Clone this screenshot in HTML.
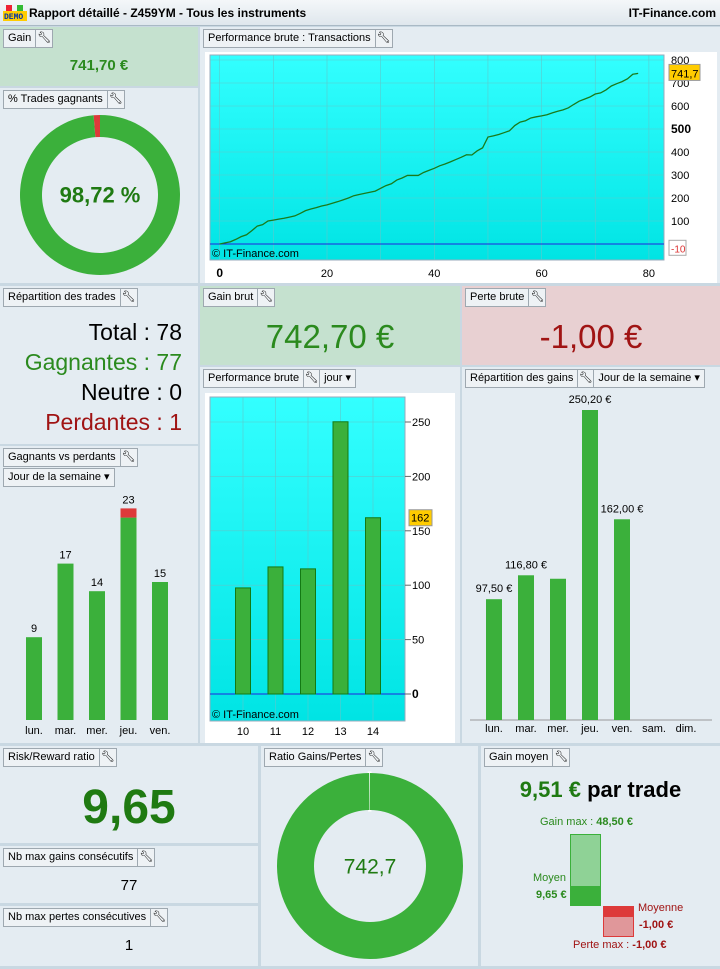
<!DOCTYPE html>
<html><head><meta charset="utf-8"><style>
*{box-sizing:border-box}
body{margin:0;width:720px;height:969px;background:#c9d8e2;font-family:"Liberation Sans",sans-serif;position:relative;overflow:hidden}
.hdr{position:absolute;left:0;top:0;width:720px;height:26px;background:linear-gradient(#f4f7f9,#dfe7ed);border-bottom:1px solid #a9b9c5;font-size:12px;font-weight:bold;line-height:26px}
.p{position:absolute;background:#e4ecf2}
.btn{position:absolute;height:19px;border:1px solid #9ea8b0;background:#eef2f5;font-size:11px;line-height:17px;display:flex}
.btn span{padding:0 4px;border-right:1px solid #9ea8b0}
.btn span:last-child{border-right:none}
.w{width:16px;display:flex;align-items:center;justify-content:center;padding:0!important}
.abs{position:absolute}
</style></head><body>
<div class="hdr">
 <svg class="abs" style="left:3px;top:5px" width="24" height="16"><rect x="3" y="0" width="6" height="6" fill="#e23"/><rect x="14" y="0" width="6" height="6" fill="#3b3"/><rect x="0" y="6" width="24" height="10" fill="#fc0"/><text x="1" y="14" font-size="8" font-weight="bold" fill="#03a" font-family="Liberation Mono">DEMO</text></svg>
 <span class="abs" style="left:29px">Rapport détaillé - Z459YM - Tous les instruments</span>
 <span class="abs" style="right:4px">IT-Finance.com</span>
</div>

<div class="p" style="left:0;top:27px;width:198px;height:59px;background:#c5e1cf">
 <div class="btn" style="left:3px;top:2px"><span>Gain</span><span class="w">🔧︎</span></div>
 <div class="abs" style="left:0;width:198px;top:30px;text-align:center;font-size:15px;font-weight:bold;color:#2b8a1e">741,70 €</div>
</div>
<div class="p" style="left:0;top:88px;width:198px;height:195px">
 <div class="btn" style="left:3px;top:2px"><span>% Trades gagnants</span><span class="w">🔧︎</span></div>
 <svg class="abs" style="left:0;top:0" width="198" height="195" id="donut1"></svg>
</div>
<div class="p" style="left:200px;top:27px;width:520px;height:256px">
 <div class="btn" style="left:3px;top:2px"><span>Performance brute : Transactions</span><span class="w">🔧︎</span></div>
 <svg class="abs" style="left:5px;top:25px" width="512" height="231" id="line"></svg>
</div>
<div class="p" style="left:0;top:286px;width:198px;height:158px">
 <div class="btn" style="left:3px;top:2px"><span>Répartition des trades</span><span class="w">🔧︎</span></div>
 <div class="abs" style="right:16px;top:31px;text-align:right;font-size:23px;line-height:30px">
  <div>Total : 78</div>
  <div style="color:#2b8a1e">Gagnantes : 77</div>
  <div>Neutre : 0</div>
  <div style="color:#a01414">Perdantes : 1</div>
 </div>
</div>
<div class="p" style="left:200px;top:286px;width:260px;height:79px;background:#c5e1cf">
 <div class="btn" style="left:3px;top:2px"><span>Gain brut</span><span class="w">🔧︎</span></div>
 <div class="abs" style="left:0;width:260px;top:32px;text-align:center;font-size:33px;color:#2b8a1e">742,70 €</div>
</div>
<div class="p" style="left:462px;top:286px;width:258px;height:79px;background:#e8d0d2">
 <div class="btn" style="left:3px;top:2px"><span>Perte brute</span><span class="w">🔧︎</span></div>
 <div class="abs" style="left:0;width:258px;top:32px;text-align:center;font-size:33px;color:#a01414">-1,00 €</div>
</div>
<div class="p" style="left:0;top:446px;width:198px;height:297px">
 <div class="btn" style="left:3px;top:2px"><span>Gagnants vs perdants</span><span class="w">🔧︎</span></div>
 <div class="btn" style="left:3px;top:22px"><span>Jour de la semaine ▾</span></div>
 <svg class="abs" style="left:0;top:0" width="198" height="297" id="wl"></svg>
</div>
<div class="p" style="left:200px;top:367px;width:260px;height:376px">
 <div class="btn" style="left:3px;top:2px"><span>Performance brute</span><span class="w">🔧︎</span><span>jour ▾</span></div>
 <svg class="abs" style="left:5px;top:26px" width="250" height="350" id="daybar"></svg>
</div>
<div class="p" style="left:462px;top:367px;width:258px;height:376px">
 <div class="btn" style="left:3px;top:2px"><span>Répartition des gains</span><span class="w">🔧︎</span><span>Jour de la semaine ▾</span></div>
 <svg class="abs" style="left:0;top:0" width="258" height="376" id="wd"></svg>
</div>
<div class="p" style="left:0;top:746px;width:258px;height:97px">
 <div class="btn" style="left:3px;top:2px"><span>Risk/Reward ratio</span><span class="w">🔧︎</span></div>
 <div class="abs" style="left:0;width:258px;top:34px;text-align:center;font-size:48px;font-weight:bold;color:#1f7a12">9,65</div>
</div>
<div class="p" style="left:0;top:846px;width:258px;height:57px">
 <div class="btn" style="left:3px;top:2px"><span>Nb max gains consécutifs</span><span class="w">🔧︎</span></div>
 <div class="abs" style="left:0;width:258px;top:31px;text-align:center;font-size:15px">77</div>
</div>
<div class="p" style="left:0;top:906px;width:258px;height:60px">
 <div class="btn" style="left:3px;top:2px"><span>Nb max pertes consécutives</span><span class="w">🔧︎</span></div>
 <div class="abs" style="left:0;width:258px;top:31px;text-align:center;font-size:15px">1</div>
</div>
<div class="p" style="left:261px;top:746px;width:217px;height:220px">
 <div class="btn" style="left:3px;top:2px"><span>Ratio Gains/Pertes</span><span class="w">🔧︎</span></div>
 <svg class="abs" style="left:0;top:0" width="217" height="220" id="donut2"></svg>
</div>
<div class="p" style="left:481px;top:746px;width:239px;height:220px">
 <div class="btn" style="left:3px;top:2px"><span>Gain moyen</span><span class="w">🔧︎</span></div>
 <div class="abs" style="left:0;width:239px;top:31px;text-align:center;font-size:22px;font-weight:bold"><span style="color:#1f7a12">9,51 €</span> par trade</div>
 <div class="abs" style="left:59px;top:70px;font-size:11px;color:#2b8a1e">Gain max : <b>48,50 €</b></div>
 <div class="abs" style="left:89px;top:88px;width:31px;height:72px;background:#8fd296;border:1px solid #3bb03b"></div>
 <div class="abs" style="left:89px;top:140px;width:31px;height:20px;background:#3bb03b"></div>
 <div class="abs" style="left:52px;top:126px;font-size:11px;color:#2b8a1e">Moyen</div>
 <div class="abs" style="left:55px;top:143px;font-size:11px;font-weight:bold;color:#2b8a1e">9,65 €</div>
 <div class="abs" style="left:122px;top:160px;width:31px;height:31px;background:#e0979a;border:1px solid #dd3a3a"></div>
 <div class="abs" style="left:122px;top:160px;width:31px;height:11px;background:#dd3a3a"></div>
 <div class="abs" style="left:157px;top:156px;font-size:11px;color:#a01414">Moyenne</div>
 <div class="abs" style="left:158px;top:173px;font-size:11px;font-weight:bold;color:#a01414">-1,00 €</div>
 <div class="abs" style="left:92px;top:193px;font-size:11px;color:#a01414">Perte max : <b>-1,00 €</b></div>
</div>

<script>
const NS="http://www.w3.org/2000/svg";
function mk(p,t,a){const e=document.createElementNS(NS,t);for(const k in a)e.setAttribute(k,a[k]);p.appendChild(e);return e;}

const winLossLabels=["Perdantes","Gagnantes"];
const winLossValues=[1.28,98.72];
const ratioLabels=["Pertes","Gains"];
const ratioValues=[1,742.7];
function donut(id,vals,cols,cx,cy,R,r,label,fs,fw){
 const s=document.getElementById(id);const tot=vals.reduce((a,b)=>a+b,0);
 let a0=-Math.PI/2 - vals[0]/tot*2*Math.PI;
 vals.forEach((v,i)=>{const a1=a0+v/tot*2*Math.PI;const L=(a1-a0)>Math.PI?1:0;
  const p=`M${cx+R*Math.cos(a0)},${cy+R*Math.sin(a0)}A${R},${R} 0 ${L} 1 ${cx+R*Math.cos(a1)},${cy+R*Math.sin(a1)}L${cx+r*Math.cos(a1)},${cy+r*Math.sin(a1)}A${r},${r} 0 ${L} 0 ${cx+r*Math.cos(a0)},${cy+r*Math.sin(a0)}Z`;
  const e=mk(s,"path",{d:p,fill:cols[i],stroke:i==0&&id=="donut2"?"#fff":"none","stroke-width":3});
  
  
  a0=a1;});
 const t=mk(s,"text",{x:cx,y:cy+fs*0.35,"text-anchor":"middle","font-size":fs,"font-weight":fw,fill:"#1f7a12"});t.textContent=label;
 
 
}
donut("donut1",winLossValues,["#dd3a3a","#3bb03b"],100,107,80,58,"98,72 %",22,"bold");
donut("donut2",ratioValues,["#ffffff","#3bb03b"],109,120,93,56,"742,7",21,"normal");

const perfValues=[0,5,10,20,32,40,58,78,84,100,104,108,112,117,122,133,145,152,158,165,170,177,184,192,200,210,215,220,225,230,242,254,262,278,287,298,298,298,311,320,329,340,348,357,367,377,388,387,405,418,465,470,476,484,492,515,530,536,548,553,557,562,570,577,583,592,607,621,630,639,652,657,670,687,697,706,718,738,741.7];
const lineYTicks=[100,200,300,400,500,600,700,800];
const lineXTicks=[0,20,40,60,80];
(function(){
 const s=document.getElementById("line");
 const X=v=>14.7+v*5.365, Y=v=>192-v*0.23;
 const g=mk(s,"defs",{});const lg=mk(g,"linearGradient",{id:"cy",x1:0,y1:0,x2:0,y2:1});
 mk(lg,"stop",{offset:0,"stop-color":"#33ffff"});mk(lg,"stop",{offset:1,"stop-color":"#00e4e4"});
 mk(s,"rect",{x:0,y:0,width:512,height:231,fill:"#fff"});
 const bg=mk(s,"rect",{x:5,y:3,width:454,height:205,fill:"url(#cy)",stroke:"#9ab"});
 
 for(let v=0;v<=80;v+=10)mk(s,"line",{x1:X(v),x2:X(v),y1:3,y2:208,stroke:"#5cc9cc","stroke-width":0.6});
 lineYTicks.forEach(v=>{mk(s,"line",{x1:5,x2:459,y1:Y(v),y2:Y(v),stroke:"#5cc9cc","stroke-width":0.6});
  const t=mk(s,"text",{x:466,y:Y(v)+4,"font-size":v==500?12:11,"font-weight":v==500?"bold":"normal"});t.textContent=v;
  });
 lineXTicks.forEach(v=>{const t=mk(s,"text",{x:X(v),y:225,"text-anchor":"middle","font-size":v==0?12:11,"font-weight":v==0?"bold":"normal"});t.textContent=v;
  });
 mk(s,"line",{x1:5,x2:459,y1:Y(0),y2:Y(0),stroke:"#2222dd","stroke-width":1});
 const pl=mk(s,"polyline",{points:perfValues.map((v,i)=>X(i)+","+Y(v)).join(" "),fill:"none",stroke:"#1a7a1a","stroke-width":1.3});
 
 const last=perfValues[perfValues.length-1];
 mk(s,"rect",{x:464,y:Y(last)-9,width:31,height:16,fill:"#ffcc00",stroke:"#999"});
 const lt=mk(s,"text",{x:466,y:Y(last)+4,"font-size":11});lt.textContent=String(last).replace(".",",");
 
 mk(s,"rect",{x:464,y:Y(-10)-6,width:17,height:15,fill:"#fff",stroke:"#aaa"});
 const mt=mk(s,"text",{x:466,y:Y(-10)+6,"font-size":10,fill:"#d33"});mt.textContent="-10";
 
 const c=mk(s,"text",{x:7,y:205,"font-size":11});c.textContent="© IT-Finance.com";
 
})();

const wlDays=["lun.","mar.","mer.","jeu.","ven."];
const wlWins=[9,17,14,22,15];
const wlLosses=[0,0,0,1,0];
(function(){
 const s=document.getElementById("wl");const base=274,k=9.2;const X=i=>34+i*31.5;
 wlDays.forEach((d,i)=>{
  const hw=wlWins[i]*k,hl=wlLosses[i]*k;
  const b=mk(s,"rect",{x:X(i)-8,y:base-hw,width:16,height:hw,fill:"#3bb03b"});
  
  if(hl){const r=mk(s,"rect",{x:X(i)-8,y:base-hw-hl,width:16,height:hl,fill:"#dd3a3a"});
   }
  const t=mk(s,"text",{x:X(i),y:base-hw-hl-5,"text-anchor":"middle","font-size":11});t.textContent=wlWins[i]+wlLosses[i];
  
  const l=mk(s,"text",{x:X(i),y:base+14,"text-anchor":"middle","font-size":11});l.textContent=d;
  
 });
})();

const dayLabels=["10","11","12","13","14"];
const dayValues=[97.5,116.8,115,250.2,162];
const dayYTicks=[0,50,100,150,200,250];
(function(){
 const s=document.getElementById("daybar");
 const X=i=>38+i*32.5, Y=v=>301-v*1.088;
 const g=mk(s,"defs",{});const lg=mk(g,"linearGradient",{id:"cy2",x1:0,y1:0,x2:0,y2:1});
 mk(lg,"stop",{offset:0,"stop-color":"#33ffff"});mk(lg,"stop",{offset:1,"stop-color":"#00e4e4"});
 mk(s,"rect",{x:0,y:0,width:250,height:350,fill:"#fff"});
 const bg=mk(s,"rect",{x:5,y:4,width:195,height:324,fill:"url(#cy2)",stroke:"#9ab"});
 
 dayLabels.forEach((d,i)=>mk(s,"line",{x1:X(i),x2:X(i),y1:4,y2:328,stroke:"#5cc9cc","stroke-width":0.6}));
 dayYTicks.forEach(v=>{if(v)mk(s,"line",{x1:5,x2:200,y1:Y(v),y2:Y(v),stroke:"#5cc9cc","stroke-width":0.6});
  mk(s,"line",{x1:200,x2:206,y1:Y(v),y2:Y(v),stroke:"#666"});
  const t=mk(s,"text",{x:207,y:Y(v)+4,"font-size":v==0?12:11,"font-weight":v==0?"bold":"normal"});t.textContent=v;
  });
 mk(s,"line",{x1:5,x2:200,y1:Y(0),y2:Y(0),stroke:"#2222dd"});
 dayValues.forEach((v,i)=>{const b=mk(s,"rect",{x:X(i)-7.5,y:Y(v),width:15,height:v*1.088,fill:"#3bb03b",stroke:"#137a13"});
  
  const l=mk(s,"text",{x:X(i),y:342,"text-anchor":"middle","font-size":11});l.textContent=dayLabels[i];
  });
 const last=dayValues[dayValues.length-1];
 mk(s,"rect",{x:204,y:Y(last)-8,width:23,height:16,fill:"#ffcc00",stroke:"#999"});
 const lt=mk(s,"text",{x:206,y:Y(last)+4,"font-size":11});lt.textContent=last;
 
 const c=mk(s,"text",{x:7,y:325,"font-size":11});c.textContent="© IT-Finance.com";
 
})();

const wdDays=["lun.","mar.","mer.","jeu.","ven.","sam.","dim."];
const wdValues=[97.5,116.8,114,250.2,162,0,0];
const wdLabels=["97,50 €","116,80 €","","250,20 €","162,00 €","",""];
(function(){
 const s=document.getElementById("wd");const base=353,k=1.239;const X=i=>32+i*32;
 mk(s,"line",{x1:8,x2:250,y1:base,y2:base,stroke:"#999"});
 wdDays.forEach((d,i)=>{const h=wdValues[i]*k;
  if(h){const b=mk(s,"rect",{x:X(i)-8,y:base-h,width:16,height:h,fill:"#3bb03b"});
   }
  if(wdLabels[i]){const t=mk(s,"text",{x:X(i),y:base-h-7,"text-anchor":"middle","font-size":11});t.textContent=wdLabels[i];
   }
  const l=mk(s,"text",{x:X(i),y:base+12,"text-anchor":"middle","font-size":11});l.textContent=d;
  });
})();
</script>
</body></html>
